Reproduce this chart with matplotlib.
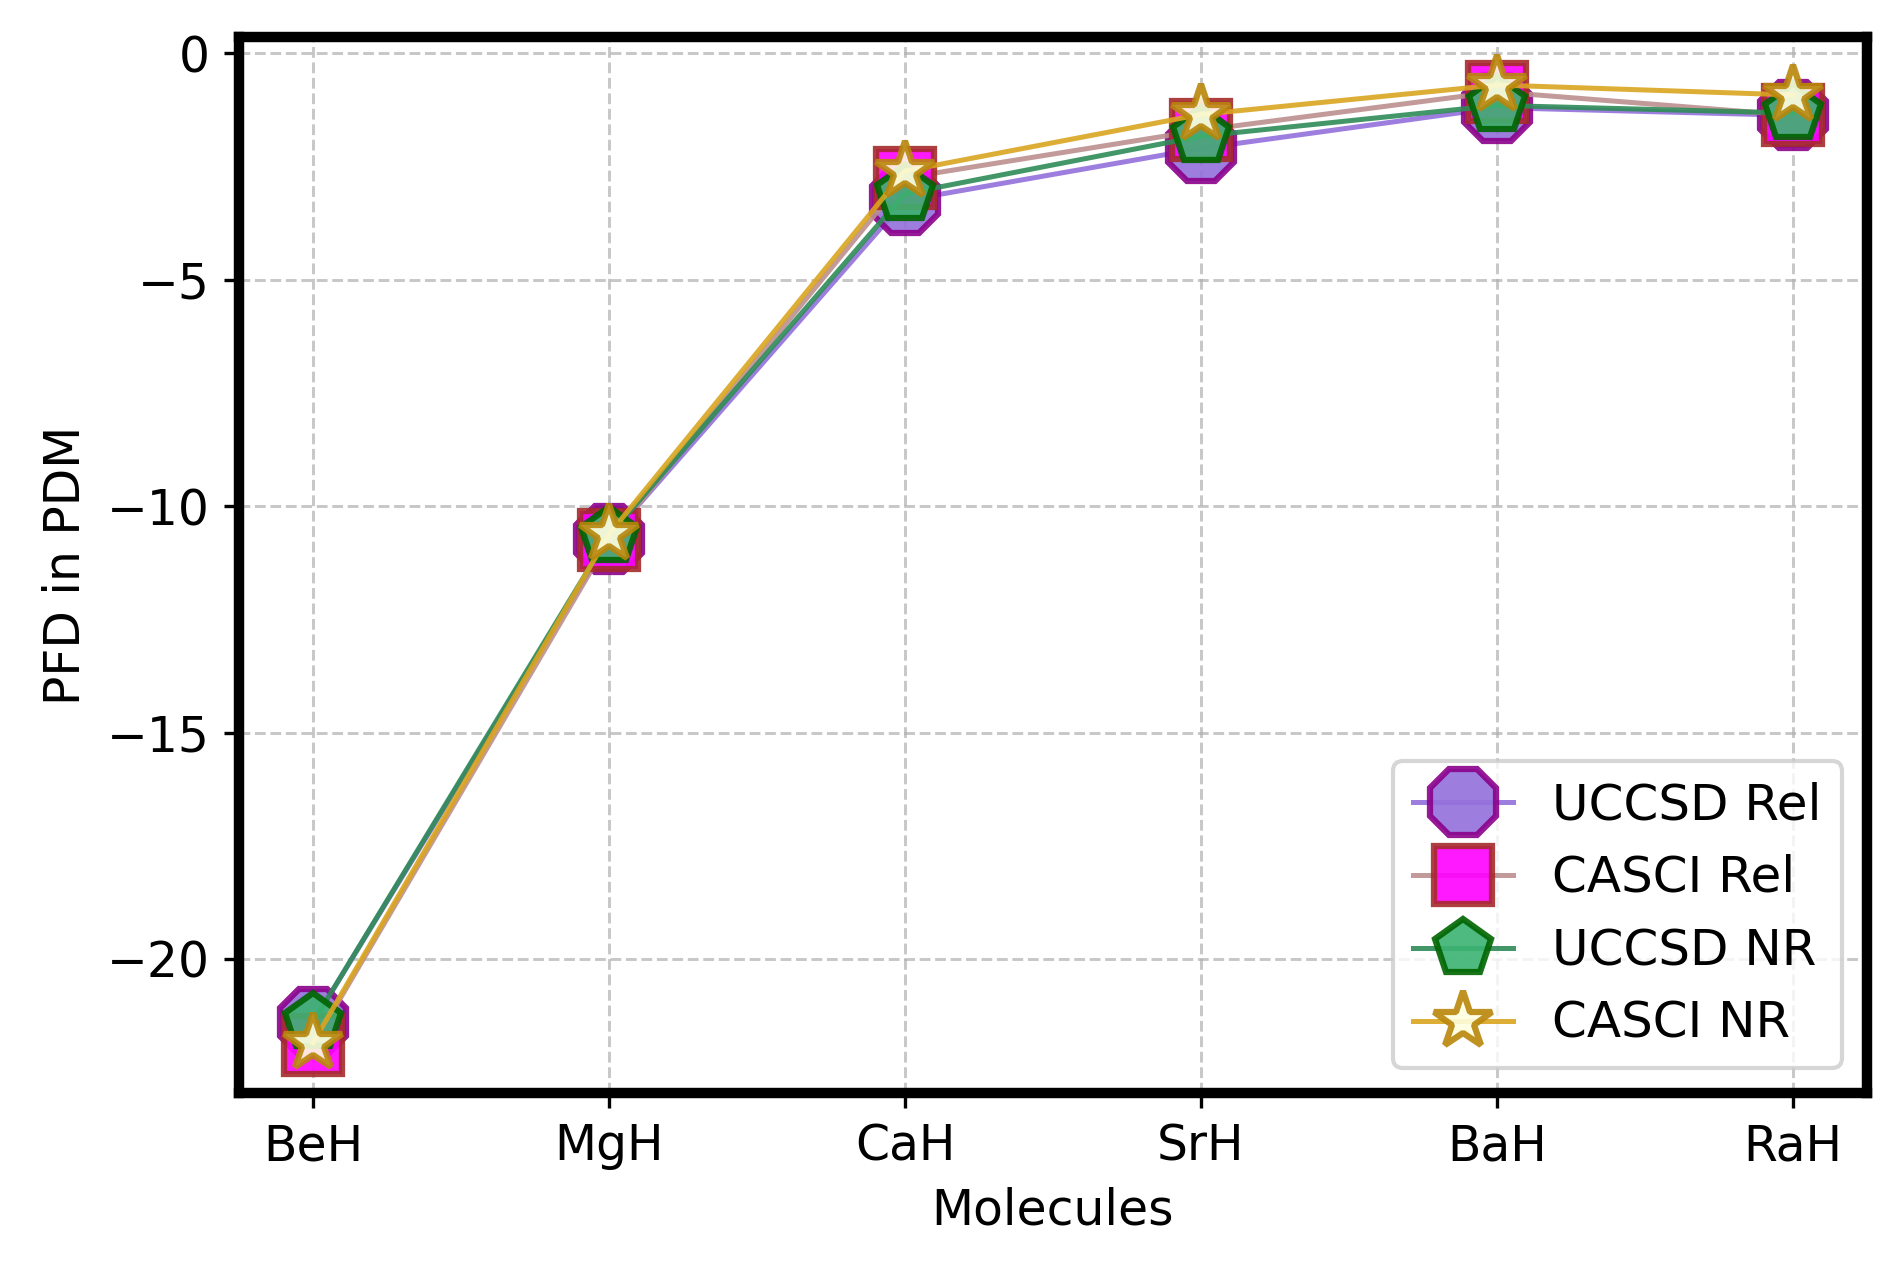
import matplotlib
matplotlib.use("Agg")
import matplotlib.pyplot as plt

molecules = ["BeH", "MgH", "CaH", "SrH", "BaH", "RaH"]
uccsd_rel = [-21.4, -10.72, -3.25, -2.1, -1.2, -1.37]
casci_rel = [-21.9, -10.75, -2.75, -1.7, -0.85, -1.37]
uccsd_nr = [-21.4, -10.65, -3.1, -1.83, -1.15, -1.32]
casci_nr = [-21.85, -10.62, -2.6, -1.35, -0.7, -0.92]

FS = 11.7

fig = plt.figure(figsize=(1901 / 300, 1278 / 300), dpi=300)
ax = fig.add_axes([239 / 1901, 1 - 1093 / 1278, (1867 - 239) / 1901, (1093 - 37) / 1278])

x = list(range(len(molecules)))
ax.plot(x, uccsd_rel, marker="8", markersize=17, color="mediumpurple",
        markerfacecolor="mediumpurple", markeredgecolor="darkmagenta",
        markeredgewidth=1.5, linewidth=1.2, alpha=0.9, label="UCCSD Rel")
ax.plot(x, casci_rel, marker="s", markersize=14, color="rosybrown",
        markerfacecolor="magenta", markeredgecolor="brown",
        markeredgewidth=1.5, linewidth=1.2, alpha=0.9, label="CASCI Rel")
ax.plot(x, uccsd_nr, marker="p", markersize=14, color="seagreen",
        markerfacecolor="mediumseagreen", markeredgecolor="darkgreen",
        markeredgewidth=1.5, linewidth=1.2, alpha=0.9, label="UCCSD NR")
ax.plot(x, casci_nr, marker="*", markersize=14.5, color="goldenrod",
        markerfacecolor="lightyellow", markeredgecolor="darkgoldenrod",
        markeredgewidth=1.5, linewidth=1.2, alpha=0.9, label="CASCI NR")

ax.set_xticks(x)
ax.set_xticklabels(molecules, fontsize=FS)
ax.tick_params(axis="y", labelsize=FS)
ax.set_xlabel("Molecules", fontsize=FS)
ax.set_ylabel("PFD in PDM", fontsize=FS)
ax.grid(True, linestyle="--", linewidth=0.7, alpha=0.7)
for s in ax.spines.values():
    s.set_linewidth(2.5)
ax.legend(loc="lower right", fontsize=12)

fig.savefig("out.png", dpi=300)
